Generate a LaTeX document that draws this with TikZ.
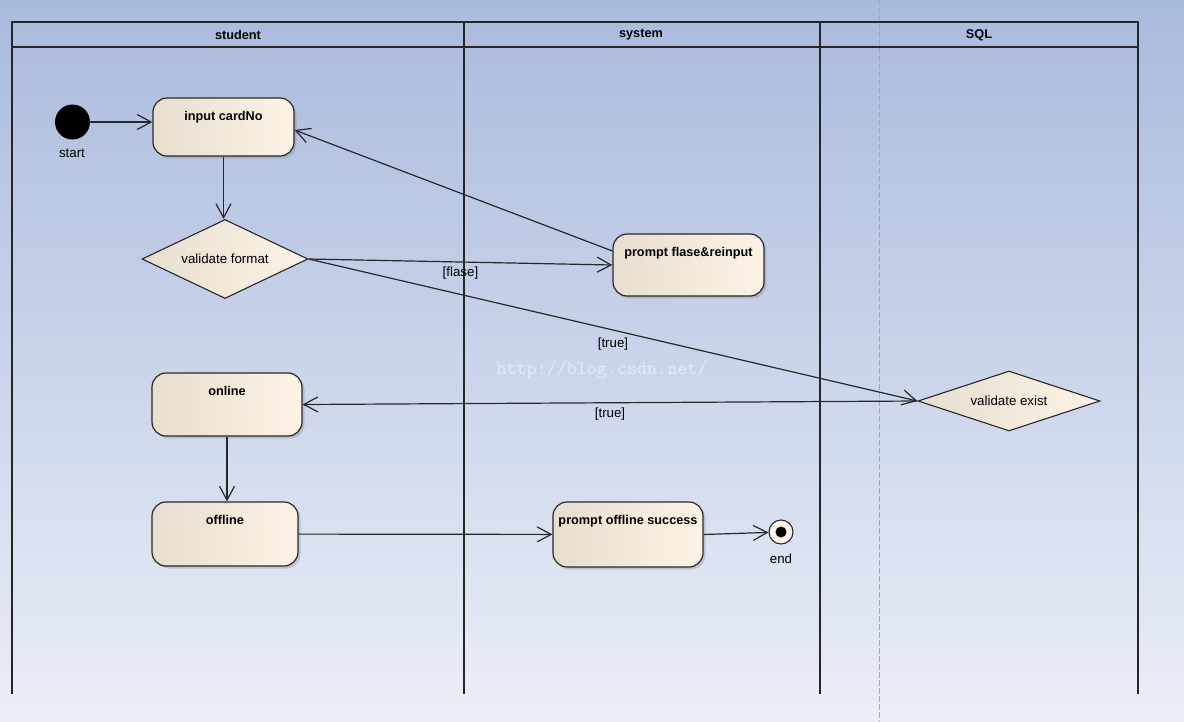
\documentclass[tikz,border=0pt]{standalone}
\usepackage{fontspec}
\setmainfont{Liberation Sans}
\usepackage{tikz}
\usetikzlibrary{arrows.meta,shapes.geometric,shadows}
\definecolor{bgtop}{RGB}{170,186,221}
\definecolor{bgbot}{RGB}{234,238,247}
\definecolor{nodeleft}{RGB}{232,222,207}
\definecolor{noderight}{RGB}{252,243,230}
\definecolor{edgegray}{RGB}{40,40,40}
\definecolor{divider}{RGB}{165,160,225}

\begin{document}
\begin{tikzpicture}[x=1pt, y=-1pt,
            lane/.style={draw=black!85, line width=1.5pt},
            head/.style={font=\fontsize{12.7}{14}\selectfont\bfseries},
            box/.style={draw=edgegray, rounded corners=14pt, line width=1.2pt,
                left color=nodeleft, right color=noderight,
                drop shadow={shadow xshift=2.5pt, shadow yshift=-2.5pt, opacity=0.3},
                font=\fontsize{12.7}{14}\selectfont\bfseries,
                inner sep=4pt, text height=18pt, text depth=36pt},
            decision/.style={diamond, draw=edgegray, line width=1.1pt,
                left color=nodeleft, right color=noderight, aspect=2, inner sep=0pt,
                font=\fontsize{13.3}{15}\selectfont},
            note/.style={font=\fontsize{13.3}{15}\selectfont},
            arrow/.style={draw=edgegray, line width=1.2pt, -{Straight Barb[length=14pt,width=15pt]}},
            watermark/.style={text=white, opacity=0.5, font=\ttfamily\fontsize{19.5}{21}\selectfont}
        ]
            % Background
            \shade[top color=bgtop, bottom color=bgbot] (0,0) rectangle (1184,721);
            \useasboundingbox (0,0) rectangle (1184,721);
            \draw[divider, line width=0.8pt, dash pattern=on 6pt off 2pt] (879,0) -- (879,721);

            % Lanes
            \draw[lane] (12,694) -- (12,22) -- (1138,22) -- (1138,694);
            \draw[lane] (12,47) -- (1138,47);
            \foreach \x in {464,820}
                \draw[lane] (\x,22) -- (\x,694);
            \node[head] (hstudent) at (238,35) {student};
            \node[head] (hsystem) at (641,35) {system};
            \node[head] (hsql) at (979,35) {SQL};

            \node[watermark] (wm) at (602,370) {http://blog.csdn.net/};

            % Student lane
            \node[circle, fill=black, minimum size=35pt, inner sep=0pt] (start) at (72.5,122) {};
            \node[note] (startlbl) at (72,153) {start};
            \node[box, text depth=32pt, minimum width=141pt] (input) at (223.5,127) {input cardNo};
            \node[decision, minimum width=166pt, minimum height=79pt] (valfmt) at (225,259) {validate format};
            \node[box, text depth=37pt, minimum width=150pt] (online) at (227,404.5) {online};
            \node[box, text depth=38pt, minimum width=146pt] (offline) at (225,534) {offline};

            % System lane
            \node[box, text depth=36pt, minimum width=151pt] (reinput) at (688.5,265) {prompt flase\&reinput};
            \node[box, text depth=39pt, minimum width=150pt] (success) at (628,534.5) {prompt offline success};
            \node[circle, draw=edgegray, line width=1.1pt, fill=noderight, minimum size=24pt, inner sep=0pt,
                path picture={\fill[black] (path picture bounding box.center) circle (5.5pt);}] (end) at (781,532) {};
            \node[note] (endlbl) at (781,559) {end};

            % SQL lane
            \node[decision, minimum width=182pt, minimum height=60pt] (valexist) at (1009,401) {validate exist};

            % Flows
            \draw[arrow] (start) -- (start -| input.west);
            \draw[arrow] (input.south) -- (input.south |- valfmt.north);
            \draw[arrow] (valfmt.east) -- (reinput.west) node[note, pos=0.5, below=1pt] (gflase) {[flase]};
            \draw[arrow] ([yshift=14pt]reinput.west) -- ([yshift=-3pt]input.east);
            \draw[arrow] (valfmt.east) -- (valexist.west) node[note, pos=0.5, below=4pt] (gtrue1) {[true]};
            \draw[arrow] (valexist.west) -- (online.east) node[note, pos=0.5, below=1pt] (gtrue2) {[true]};
            \draw[arrow] (online.south) -- (online.south |- offline.north);
            \draw[arrow] (offline) -- (success);
            \draw[arrow] (success.east) -- (end);
        \end{tikzpicture}
\end{document}
